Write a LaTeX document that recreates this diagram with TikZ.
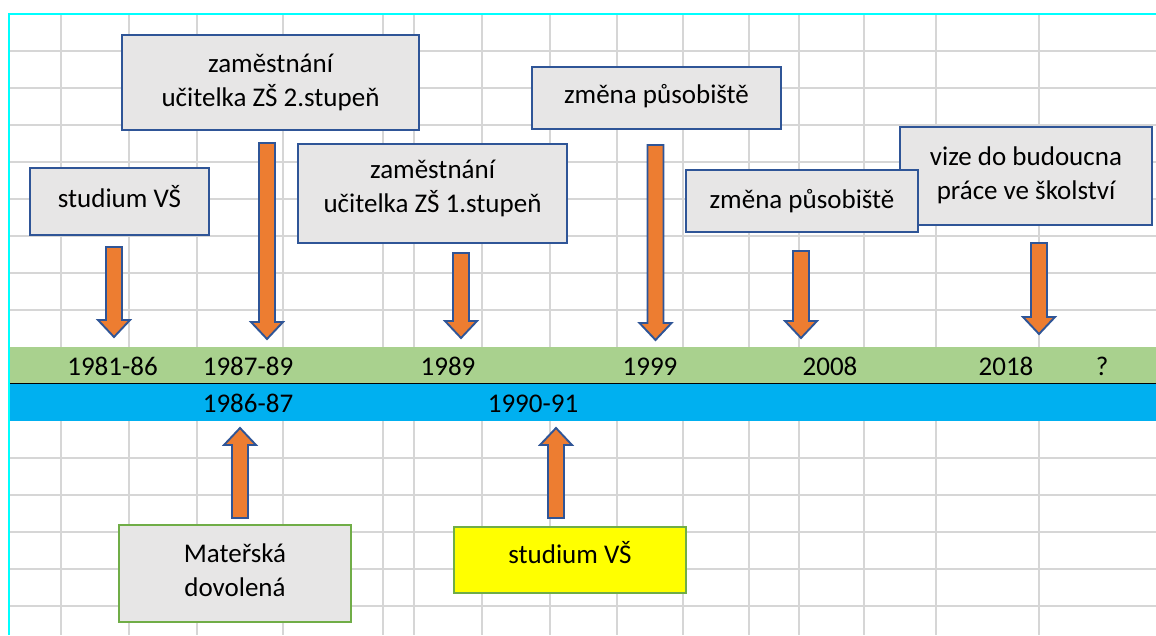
\documentclass[tikz,border=0pt]{standalone}
\usepackage{fontspec}
\setmainfont{Carlito}
\definecolor{gridgray}{HTML}{D6D6D6}
\definecolor{frame}{HTML}{00FFFF}
\definecolor{boxblue}{HTML}{2F5597}
\definecolor{boxgray}{HTML}{E7E6E6}
\definecolor{boxgreen}{HTML}{70AD47}
\definecolor{arrowfill}{HTML}{ED7D31}
\definecolor{bandgreen}{HTML}{A9D18E}
\definecolor{bandblue}{HTML}{00B0F0}
\definecolor{noteyellow}{HTML}{FFFF00}
% block arrow: #1 = x of axis, #2 = y of tail, #3 = y of tip
\newcommand{\blockarrow}[3]{%
  \pgfmathsetmacro{\adir}{sign(#3-#2)}%
  \draw[arrowshape] (#1-8,#2) -- (#1-8,#3-17*\adir) -- (#1-16,#3-17*\adir)
    -- (#1,#3) -- (#1+16,#3-17*\adir) -- (#1+8,#3-17*\adir) -- (#1+8,#2) -- cycle;%
}
\begin{document}
\begin{tikzpicture}[x=1pt,y=-1pt,
  gridline/.style={draw=gridgray, line width=1.3pt},
  box/.style={draw=boxblue, line width=2pt, fill=boxgray, inner sep=0pt, outer sep=0pt},
  greenbox/.style={box, draw=boxgreen},
  boxtext/.style={inner sep=0pt, align=center, font=\fontsize{27}{34}\selectfont},
  yearlabel/.style={anchor=base, inner sep=0pt, font=\fontsize{27}{34}\selectfont},
  arrowshape/.style={fill=arrowfill, draw=boxblue, line width=1.9pt, line join=miter}]
\useasboundingbox (0,0) rectangle (1156,635);
\fill[white] (0,0) rectangle (1156,635);

% spreadsheet grid
\foreach \gx in {61,129,197,283,383,414,482,550,617,683,749,799,864,936,1039}
  \draw[gridline] (\gx,14) -- (\gx,635);
\foreach \gy in {51,88,125,162,199,236,273,310,458,495,532,569,606}
  \draw[gridline] (9,\gy) -- (1156,\gy);

% sheet frame
\draw[frame, line width=2.4pt] (9,635) -- (9,14) -- (1156,14);

% time bands
\fill[bandgreen] (10,347) rectangle (1156,383.5);
\fill[bandblue] (10,383.5) rectangle (1156,421);
\draw[black, line width=1pt] (10,383.5) -- (1156,383.5);

% years
\node[yearlabel] (y8186) at (112.5,375) {1981-86};
\node[yearlabel] (y8789) at (248,375) {1987-89};
\node[yearlabel] (y1989) at (448,375) {1989};
\node[yearlabel] (y1999) at (650,375) {1999};
\node[yearlabel] (y2008) at (830,375) {2008};
\node[yearlabel] (y2018) at (1006,375) {2018};
\node[yearlabel] (yq) at (1102,375) {?};
\node[yearlabel] (y8687) at (248,412) {1986-87};
\node[yearlabel] (y9091) at (533,412) {1990-91};

% event boxes and their texts
\node[box, minimum width=179pt, minimum height=67pt] (vs1) at (119.5,201.5) {};
\node[boxtext] (vs1t) at ([yshift=5pt]vs1.center) {studium VŠ};
\node[box, minimum width=297pt, minimum height=95pt] (zs2) at (270.5,82.5) {};
\node[boxtext] (zs2t) at (zs2.center) {zaměstnání\\ učitelka ZŠ 2.stupeň};
\node[box, minimum width=269pt, minimum height=99pt] (zs1) at (432.5,193.5) {};
\node[boxtext] (zs1t) at ([yshift=5pt]zs1.center) {zaměstnání\\ učitelka ZŠ 1.stupeň};
\node[box, minimum width=249pt, minimum height=62pt] (zm1) at (656.5,98) {};
\node[boxtext] (zm1t) at ([yshift=2pt]zm1.center) {změna působiště};
\node[box, minimum width=252pt, minimum height=98pt] (vize) at (1026,176) {};
\node[boxtext] (vizet) at ([yshift=1pt]vize.center) {vize do budoucna\\ práce ve školství};
\node[box, minimum width=232pt, minimum height=62pt] (zm2) at (802,201) {};
\node[boxtext] (zm2t) at (zm2.center) {změna působiště};
\node[greenbox, minimum width=232pt, minimum height=97pt] (md) at (235,573.5) {};
\node[boxtext] (mdt) at ([yshift=3pt]md.center) {Mateřská\\ dovolená};
\node[greenbox, fill=noteyellow, minimum width=232pt, minimum height=66pt] (vs2) at (570,560) {};
\node[boxtext] (vs2t) at ([yshift=7pt]vs2.center) {studium VŠ};

% arrows to the time line
\blockarrow{114}{247}{337}
\blockarrow{267}{143}{339}
\blockarrow{461}{253}{338}
\blockarrow{655.5}{145}{340}
\blockarrow{801}{251}{338}
\blockarrow{1039}{243}{334}
\blockarrow{240}{518}{428}
\blockarrow{556}{518}{428}
\end{tikzpicture}
\end{document}
